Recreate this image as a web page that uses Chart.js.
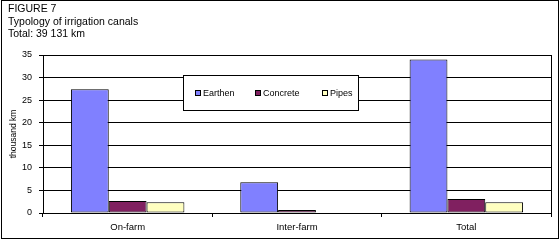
<!DOCTYPE html>
<html>
<head>
<meta charset="utf-8">
<script src="https://cdn.jsdelivr.net/npm/chart.js@4/dist/chart.umd.min.js"></script>
<style>
  html, body { margin:0; padding:0; background:#fff; }
  canvas { display:block; }
</style>
</head>
<body>
<canvas id="chart" width="559" height="240"></canvas>
<script>
// data (thousand km)
const categories = ['On-farm', 'Inter-farm', 'Total'];
const earthen  = [27.4, 6.8, 34.0];
const concrete = [2.65, 0.65, 3.1];
const pipes    = [2.4, 0, 2.4];
const seriesNames = ['Earthen', 'Concrete', 'Pipes'];
const yTicks = [0, 5, 10, 15, 20, 25, 30, 35];
const titleLines = ['FIGURE 7', 'Typology of irrigation canals', 'Total: 39 131 km'];

const FONT = '"Liberation Sans", Arial, sans-serif';

// title, frame, right border of plot, legend box
const decor = {
  id: 'decor',
  afterDatasetsDraw(chart){
    const ctx = chart.ctx;
    const a = chart.chartArea;
    ctx.save();
    // right edge of plot area
    ctx.strokeStyle = '#000';
    ctx.lineWidth = 1;
    ctx.beginPath();
    ctx.moveTo(Math.round(a.right) + 0.5, Math.round(a.top));
    ctx.lineTo(Math.round(a.right) + 0.5, Math.round(a.bottom) + 3);
    ctx.stroke();

    // legend box (sits over the grid)
    const lx = 183.5, ly = 75.5, lw = 175, lh = 35;
    ctx.fillStyle = '#fff';
    ctx.fillRect(lx, ly, lw, lh);
    ctx.strokeRect(lx, ly, lw, lh);
    const itemX = [195, 255, 322];
    ctx.font = '9px ' + FONT;
    ctx.textBaseline = 'middle';
    chart.data.datasets.forEach((ds, i) => {
      ctx.fillStyle = ds.backgroundColor;
      ctx.fillRect(itemX[i] + 0.5, 90.5, 5, 5);
      ctx.strokeRect(itemX[i] + 0.5, 90.5, 5, 5);
      ctx.fillStyle = '#000';
      ctx.fillText(ds.label, itemX[i] + 8, 94);
    });
    ctx.restore();
  },
  afterDraw(chart){
    const ctx = chart.ctx;
    ctx.save();
    ctx.strokeStyle = '#000';
    ctx.lineWidth = 1;
    ctx.strokeRect(1.5, 0.5, 557, 238);
    ctx.fillStyle = '#000';
    ctx.font = '10.5px ' + FONT;
    ctx.textBaseline = 'middle';
    titleLines.forEach((t, i) => ctx.fillText(t, 8, 9.5 + i * 12.5));
    ctx.restore();
  }
};

new Chart(document.getElementById('chart'), {
  type: 'bar',
  data: {
    labels: categories,
    datasets: [
      { label: seriesNames[0], data: earthen,  backgroundColor: '#8080ff' },
      { label: seriesNames[1], data: concrete, backgroundColor: '#802060' },
      { label: seriesNames[2], data: pipes,    backgroundColor: '#ffffc0' }
    ]
  },
  options: {
    responsive: false,
    animation: false,
    devicePixelRatio: 1,
    layout: { padding: { left: 0, top: 55, right: 8, bottom: 0 } },
    datasets: {
      bar: {
        borderColor: '#000',
        borderWidth: 1,
        borderSkipped: false,
        categoryPercentage: 0.67,
        barPercentage: 1
      }
    },
    plugins: {
      legend: { display: false },
      title: { display: false },
      tooltip: { enabled: false }
    },
    scales: {
      x: {
        afterFit(s){ s.height = 27; },
        grid: { offset: true, drawOnChartArea: false, color: '#000', tickLength: 4 },
        border: { color: '#000', width: 1 },
        ticks: { color: '#000', font: { family: FONT, size: 9.5 }, padding: 5, maxRotation: 0 }
      },
      y: {
        min: 0,
        max: 35,
        afterFit(s){ s.width = 43; },
        afterBuildTicks(s){ s.ticks = yTicks.map(v => ({ value: v })); },
        grid: { color: '#000', tickLength: 4 },
        border: { color: '#000', width: 1 },
        ticks: { color: '#000', font: { family: FONT, size: 9 }, padding: 7 },
        title: {
          display: true,
          text: 'thousand km',
          color: '#000',
          font: { family: FONT, size: 8.5 },
          padding: { top: 9, bottom: 0 }
        }
      }
    }
  },
  plugins: [decor]
});
</script>
</body>
</html>
